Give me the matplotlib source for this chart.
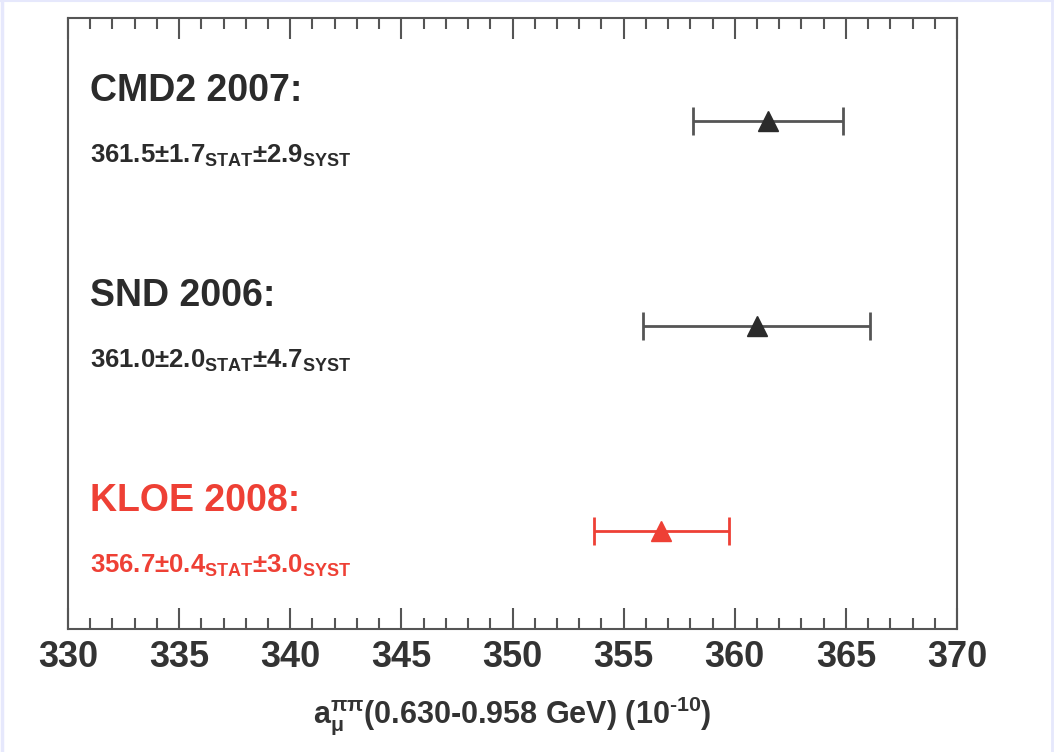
import matplotlib
matplotlib.use("Agg")
import matplotlib.pyplot as plt
import matplotlib.transforms as mtransforms
from matplotlib.lines import Line2D
from matplotlib.ticker import MultipleLocator

plt.rcParams['font.family'] = ['Liberation Sans', 'DejaVu Sans']
plt.rcParams['mathtext.fontset'] = 'custom'
plt.rcParams['mathtext.rm'] = 'Liberation Sans:bold'
plt.rcParams['mathtext.it'] = 'Liberation Sans:bold'
plt.rcParams['mathtext.bf'] = 'Liberation Sans:bold'

# measurements (10^-10)
experiments = ["CMD2 2007:", "SND 2006:", "KLOE 2008:"]
central = [361.5, 361.0, 356.7]
stat = [1.7, 2.0, 0.4]
syst = [2.9, 4.7, 3.0]
colors = ["#2b2b2b", "#2b2b2b", "#ee4035"]
barcolors = ["#555555", "#555555", "#ee4035"]
ypos = [3, 2, 1]

fig = plt.figure(figsize=(10.54, 7.52), dpi=100)
ax = fig.add_axes([68/1054, 1 - 629/752, 889/1054, 611/752])

tr = mtransforms.blended_transform_factory(ax.transAxes, ax.transData)
for name, c, st, sy, col, bcol, y in zip(experiments, central, stat, syst, colors, barcolors, ypos):
    err = (st**2 + sy**2) ** 0.5
    ax.errorbar(c, y, xerr=err, fmt='^', color=col, ecolor=bcol,
                ms=14, elinewidth=2, capsize=10, capthick=2, mec=col, mfc=col)
    ax.text(0.025, y + 0.146, name, transform=tr, fontsize=27, fontweight='bold',
            color=col, va='center', ha='left')
    val = r"$%.1f{\pm}%.1f_{\mathrm{STAT}}{\pm}%.1f_{\mathrm{SYST}}$" % (c, st, sy)
    ax.text(0.025, y - 0.171, val, transform=tr, fontsize=18.5, color=col,
            va='center', ha='left')

ax.set_xlim(330, 370)
ax.set_ylim(0.52, 3.5)
ax.xaxis.set_major_locator(MultipleLocator(5))
ax.xaxis.set_minor_locator(MultipleLocator(1))
ax.set_yticks([])
ax.tick_params(axis='x', which='both', direction='in', top=True, bottom=True,
               color='#555555', width=1.5, labelsize=26, pad=8)
ax.tick_params(axis='x', which='major', length=15)
ax.tick_params(axis='x', which='minor', length=8)
for lab in ax.get_xticklabels():
    lab.set_fontweight('bold')
    lab.set_color('#333333')
for s in ax.spines.values():
    s.set_color('#555555')
    s.set_linewidth(1.5)

ax.set_xlabel(r"$\mathregular{a_{\mu}^{\pi\pi}}$(0.630-0.958 GeV) (10$^{\text{-}10}$)",
              fontsize=22, fontweight='bold', color='#333333', labelpad=14)

# thin lavender frame on left, top and right
edge = '#e6e8fc'
fig.add_artist(Line2D([0.0015, 0.0015], [0, 1], transform=fig.transFigure, color=edge, lw=2.5))
fig.add_artist(Line2D([0, 1], [0.999, 0.999], transform=fig.transFigure, color=edge, lw=1.5))
fig.add_artist(Line2D([0.9985, 0.9985], [0, 1], transform=fig.transFigure, color=edge, lw=2))

fig.savefig("out.png", dpi=100)
